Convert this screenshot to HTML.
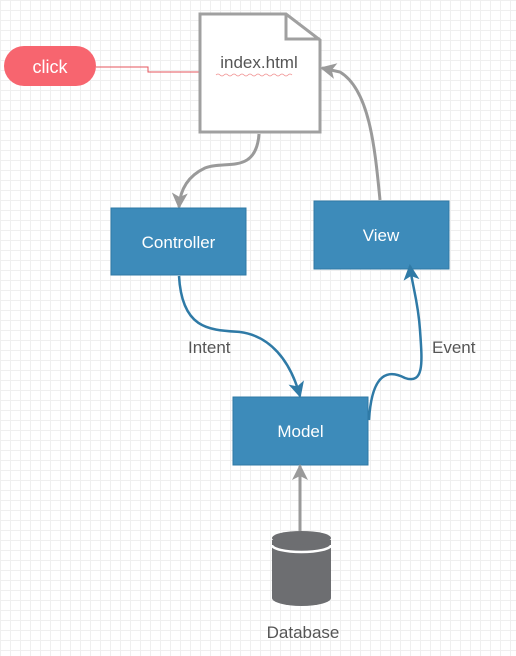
<!DOCTYPE html>
<html><head><style>
body{margin:0;width:516px;height:656px;overflow:hidden;background:#fff;
background-image:linear-gradient(#efefef 1px,transparent 1px),linear-gradient(90deg,#efefef 1px,transparent 1px);
background-size:10px 10px;font-family:"Liberation Sans",sans-serif;}
</style></head><body>
<svg width="516" height="656" style="position:absolute;left:0;top:0">
<defs>
<marker id="ag" markerWidth="20" markerHeight="20" refX="14" refY="8" orient="auto" markerUnits="userSpaceOnUse"><path d="M0,0 L16,8 L0,16 L4,8 Z" fill="#9a9a9a"/></marker>
<marker id="ab" markerWidth="20" markerHeight="20" refX="14" refY="8" orient="auto" markerUnits="userSpaceOnUse"><path d="M0,0 L16,8 L0,16 L4,8 Z" fill="#2f7aa6"/></marker>
</defs>
<rect x="4" y="46" width="92" height="40" rx="20" fill="#f7656f"/>
<text x="50" y="73" font-size="18" fill="#fff" text-anchor="middle">click</text>
<polyline points="96,67 148,67 148,72 199,72" fill="none" stroke="#e4545c" stroke-width="1"/>
<path d="M200,14 L286,14 L320,40 L320,132 L200,132 Z" fill="#fff" stroke="#a0a0a0" stroke-width="3"/>
<path d="M286,14 L286,39 L320,39" fill="none" stroke="#a0a0a0" stroke-width="3"/>
<text x="259" y="68" font-size="17" fill="#555" text-anchor="middle">index.html</text>
<path d="M216,75 q2,-2 4,0 t4,0 t4,0 t4,0 t4,0 t4,0 t4,0 t4,0 t4,0 t4,0 t4,0 t4,0 t4,0 t4,0 t4,0 t4,0 t4,0 t4,0 t4,0" fill="none" stroke="#f09090" stroke-width="0.8"/>
<path d="M259,134 C256,175 225,160 205,168 C188,176 180,190 179,207" fill="none" stroke="#9a9a9a" stroke-width="3" marker-end="url(#ag)"/>
<path d="M380,200 C375,150 370,90 340,72 L322,68" fill="none" stroke="#9a9a9a" stroke-width="3" marker-end="url(#ag)"/>
<rect x="111" y="208" width="135" height="67" fill="#3d8bba" stroke="#2f7aa6"/>
<text x="178.5" y="248" font-size="17" fill="#fff" text-anchor="middle">Controller</text>
<rect x="314" y="201" width="135" height="68" fill="#3d8bba" stroke="#2f7aa6"/>
<text x="381" y="241" font-size="17" fill="#fff" text-anchor="middle">View</text>
<rect x="233" y="397" width="135" height="68" fill="#3d8bba" stroke="#2f7aa6"/>
<text x="300.5" y="437" font-size="17" fill="#fff" text-anchor="middle">Model</text>
<path d="M179,276 C182,330 210,330 240,332 C270,336 290,360 300,396" fill="none" stroke="#2f7aa6" stroke-width="2.5" marker-end="url(#ab)"/>
<path d="M369,420 C372,370 390,370 405,378 C425,385 422,360 420,330 C418,300 412,285 410,266" fill="none" stroke="#2f7aa6" stroke-width="2.5" marker-end="url(#ab)"/>
<text x="188" y="353" font-size="17" fill="#555">Intent</text>
<text x="432" y="353" font-size="17" fill="#555">Event</text>
<line x1="300" y1="531" x2="300" y2="466" stroke="#9a9a9a" stroke-width="3" marker-end="url(#ag)"/>
<path d="M272,540 L272,598 A29.5,8 0 0 0 331,598 L331,540 Z" fill="#6d6e71"/>
<ellipse cx="301.5" cy="538" rx="29.5" ry="7" fill="#6d6e71"/>
<path d="M272,545 A29.5,7 0 0 0 331,545" fill="none" stroke="#fff" stroke-width="2.5"/>
<text x="303" y="638" font-size="17" fill="#555" text-anchor="middle">Database</text>
</svg>
</body></html>
